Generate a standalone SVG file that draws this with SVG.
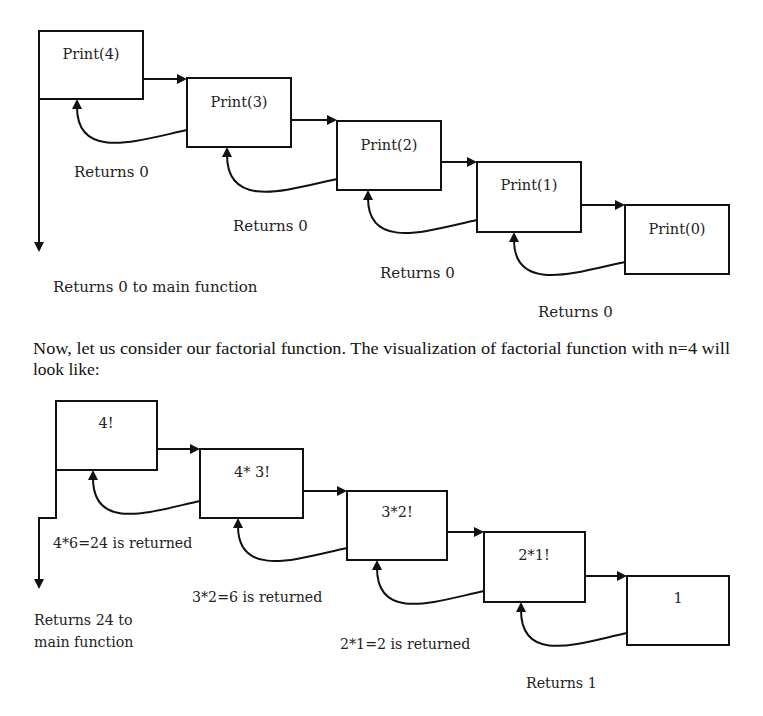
<svg xmlns="http://www.w3.org/2000/svg" width="763" height="716" viewBox="0 0 763 716">
<defs>
<marker id="ah" viewBox="0 0 10 10" refX="2" refY="5" markerWidth="10" markerHeight="10" markerUnits="userSpaceOnUse" orient="auto">
<path d="M0,0 L10,5 L0,10 z" fill="#111"/>
</marker>
<style>
.box{fill:#fff;stroke:#111;stroke-width:2}
.lbl{font-family:"DejaVu Serif","Liberation Serif",serif;font-size:15px;fill:#222}
.lbl2{font-family:"DejaVu Serif","Liberation Serif",serif;font-size:14.2px;fill:#222}
.nt{font-family:"DejaVu Serif","Liberation Serif",serif;font-size:14.5px;fill:#222;text-anchor:middle}
.para{font-family:"Liberation Serif","Times New Roman",serif;font-size:17.5px;fill:#111}
.c{fill:none;stroke:#111;stroke-width:2;marker-end:url(#ah)}
</style>
</defs>
<rect width="763" height="716" fill="#fff"/>

<g id="connectors">
<path class="c" d="M143,79 L179,79"/>
<path class="c" d="M291,120 L329,120"/>
<path class="c" d="M441,162 L469,162"/>
<path class="c" d="M581,205 L617,205"/>
<path class="c" d="M39,99 L39,244"/>
<path class="c" d="M187,130 C140,140 77,162 77,107"/>
<path class="c" d="M337,179 C290,189 227,211 227,155"/>
<path class="c" d="M477,220 C430,230 368,252 368,198"/>
<path class="c" d="M625,262 C578,272 514,294 514,240"/>
<path class="c" d="M157,449 L192,449"/>
<path class="c" d="M303,491 L339,491"/>
<path class="c" d="M447,532 L476,532"/>
<path class="c" d="M585,576 L619,576"/>
<path class="c" d="M56,470 L56,518 L39,518 L39,581"/>
<path class="c" d="M200,501 C153,511 93,533 93,478"/>
<path class="c" d="M347,548 C300,558 238,580 238,526"/>
<path class="c" d="M484,591 C437,601 377,623 377,568"/>
<path class="c" d="M627,633 C580,643 521,665 521,610"/>
</g>

<g id="n-print4"><rect class="box" x="39" y="31" width="104" height="68"/><text class="nt" x="91" y="59">Print(4)</text></g>
<g id="n-print3"><rect class="box" x="187" y="78" width="104" height="69"/><text class="nt" x="239" y="107">Print(3)</text></g>
<g id="n-print2"><rect class="box" x="337" y="121" width="104" height="69"/><text class="nt" x="389" y="150">Print(2)</text></g>
<g id="n-print1"><rect class="box" x="477" y="162" width="104" height="70"/><text class="nt" x="529" y="190">Print(1)</text></g>
<g id="n-print0"><rect class="box" x="625" y="205" width="104" height="69"/><text class="nt" x="677" y="234">Print(0)</text></g>

<g id="top-labels">
<text class="lbl" x="74" y="177">Returns 0</text>
<text class="lbl" x="233" y="231">Returns 0</text>
<text class="lbl" x="380" y="278">Returns 0</text>
<text class="lbl" x="538" y="317">Returns 0</text>
<text class="lbl" x="53" y="292">Returns 0 to main function</text>
</g>

<g id="paragraph">
<text class="para" x="33" y="354" textLength="697" lengthAdjust="spacingAndGlyphs">Now, let us consider our factorial function. The visualization of factorial function with n=4 will</text>
<text class="para" x="33" y="375">look like:</text>
</g>

<g id="n-f4"><rect class="box" x="56" y="401" width="101" height="69"/><text class="nt" x="106" y="428">4!</text></g>
<g id="n-f3"><rect class="box" x="200" y="449" width="103" height="69"/><text class="nt" x="252" y="477">4* 3!</text></g>
<g id="n-f2"><rect class="box" x="347" y="491" width="100" height="69"/><text class="nt" x="397" y="517">3*2!</text></g>
<g id="n-f1"><rect class="box" x="484" y="532" width="101" height="70"/><text class="nt" x="534" y="560">2*1!</text></g>
<g id="n-f0"><rect class="box" x="627" y="576" width="102" height="69"/><text class="nt" x="678" y="603">1</text></g>

<g id="bottom-labels">
<text class="lbl2" x="53" y="548">4*6=24 is returned</text>
<text class="lbl2" x="192" y="602">3*2=6 is returned</text>
<text class="lbl2" x="340" y="649">2*1=2 is returned</text>
<text class="lbl2" x="526" y="688">Returns 1</text>
<text class="lbl2" x="34" y="625">Returns 24 to</text>
<text class="lbl2" x="34" y="647">main function</text>
</g>
</svg>
